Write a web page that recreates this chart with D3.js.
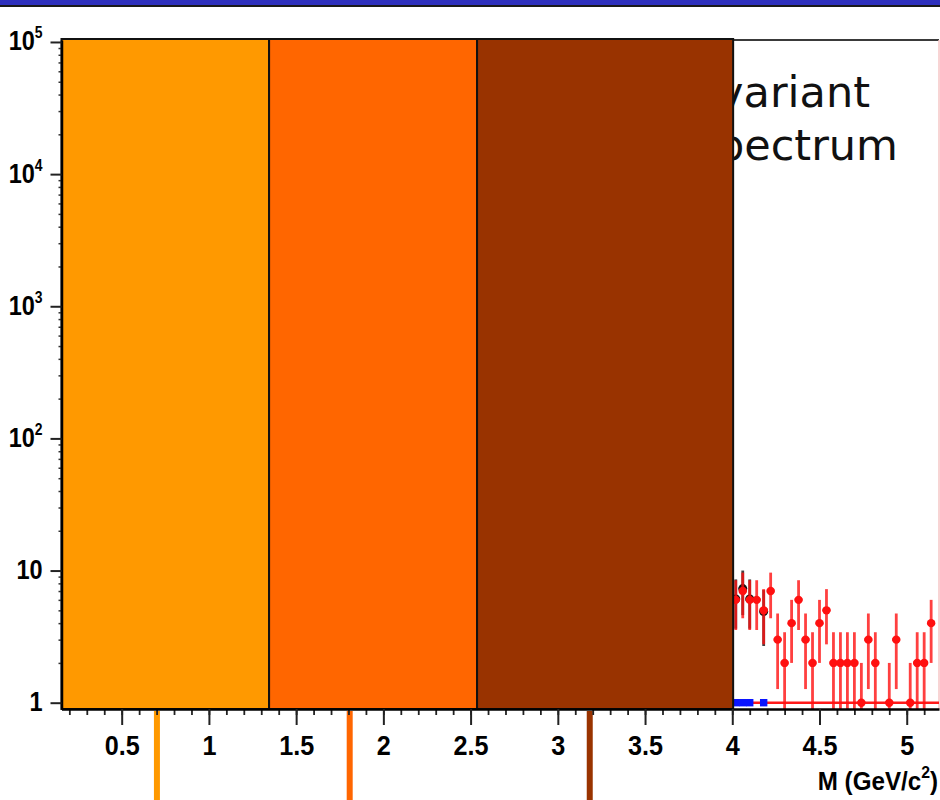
<!DOCTYPE html>
<html>
<head>
<meta charset="utf-8">
<script src="https://cdn.jsdelivr.net/npm/d3@7"></script>
<style>
  body { margin: 0; background: #fff; }
  svg { display: block; }
  .label { font-family: 'Liberation Sans', Arial, sans-serif; font-weight: bold; fill: #000; }
</style>
</head>
<body>
<div id="grafico"></div>
<script>
// Bin centres (GeV/c^2) and counts of the red histogram
const massBins = [4.02, 4.06, 4.10, 4.14, 4.18, 4.22, 4.26, 4.30, 4.34, 4.38,
  4.42, 4.46, 4.50, 4.54, 4.58, 4.62, 4.66, 4.70, 4.74, 4.78,
  4.82, 4.86, 4.90, 4.94, 4.98, 5.02, 5.06, 5.10, 5.14];
const counts = [6, 7, 6, 6, 5, 7, 3, 2, 4, 6,
  3, 2, 4, 5, 2, 2, 2, 2, 1, 3,
  2, 0, 1, 3, 0, 1, 2, 2, 4];

// Second (black) series, mostly hidden under the red one
const blackBins = [4.02, 4.06, 4.10, 4.18];
const blackCounts = [6.1, 7.3, 6.1, 4.9];

// Blue series sitting on the bottom
const blueBins = [4.02, 4.06, 4.10, 4.18];
const blueCounts = [1, 1, 1, 1];

// Red flat line
const fitLevel = 1;

// Coloured mass regions drawn over the plot, and the marks below the axis
const regionEdges = [0.155, 1.345, 2.537, 4.005];
const regionColors = ['#ff9900', '#ff6600', '#993300'];
const regionMarks = [0.702, 1.807, 3.183];

// Axis ticks
const xTicks = [0.5, 1, 1.5, 2, 2.5, 3, 3.5, 4, 4.5, 5];
const yTicks = [1, 10, 100, 1000, 10000, 100000];
const titleLines = ['Invariant', 'mass spectrum'];

function criarGrafico() {
  const largura = 940;
  const altura = 800;

  const svg = d3
    .select('#grafico')
    .append('svg')
    .attr('width', largura)
    .attr('height', altura);

  // Scales
  const x = d3.scaleLinear().domain([0.155, 5.185]).range([61.5, 939]);
  const y = d3.scaleLog().domain([0.896, 1.035e5]).range([709, 40]);
  const yMin = y.domain()[0];

  // Slide header strip
  svg.append('rect').attr('x', 0).attr('y', 0).attr('width', largura).attr('height', 5).attr('fill', '#2e30bd');
  svg.append('rect').attr('x', 0).attr('y', 5).attr('width', largura).attr('height', 2).attr('fill', '#1a1a1a');

  // Title text (mostly covered)
  svg
    .selectAll('.titulo')
    .data(titleLines)
    .enter()
    .append('text')
    .attr('class', 'titulo')
    .attr('x', (d, i) => (i === 0 ? 870 : 898))
    .attr('y', (d, i) => 107 + i * 53)
    .attr('text-anchor', 'end')
    .style('font-family', "'DejaVu Sans', Verdana, sans-serif")
    .style('font-size', '43px')
    .attr('fill', '#111')
    .text((d) => d);

  // Frame
  svg.append('line').attr('x1', 61.5).attr('x2', 939).attr('y1', 40).attr('y2', 40)
    .attr('stroke', '#3a3a3a').attr('stroke-width', 2);
  svg.append('line').attr('x1', 939).attr('x2', 939).attr('y1', 40).attr('y2', 709)
    .attr('stroke', '#f6c6c6').attr('stroke-width', 1.5);

  // Red flat line
  svg.append('line')
    .attr('x1', x(regionEdges[3])).attr('x2', x(x.domain()[1]))
    .attr('y1', y(fitLevel)).attr('y2', y(fitLevel))
    .attr('stroke', '#ff1a1a').attr('stroke-width', 2.5);

  // Blue markers
  svg.selectAll('.azul')
    .data(blueBins.map((b, i) => ({ m: b, n: blueCounts[i] })))
    .enter()
    .append('rect')
    .attr('class', 'azul')
    .attr('x', (d) => x(d.m) - 3.7)
    .attr('y', (d) => y(d.n) - 3.7)
    .attr('width', 7.4)
    .attr('height', 7.4)
    .attr('fill', '#0a14ff');

  // Histogram points with Poisson error bars
  function desenhaPontos(bins, valores, cor, raio, classe) {
    const dados = bins
      .map((b, i) => ({ m: b, n: valores[i] }))
      .filter((d) => d.n > 0);
    const g = svg.append('g').attr('class', classe);
    g.selectAll('.ey')
      .data(dados)
      .enter()
      .append('line')
      .attr('x1', (d) => x(d.m))
      .attr('x2', (d) => x(d.m))
      .attr('y1', (d) => y(Math.max(d.n - Math.sqrt(d.n), yMin)))
      .attr('y2', (d) => y(d.n + Math.sqrt(d.n)))
      .attr('stroke', cor)
      .attr('stroke-opacity', 0.8)
      .attr('stroke-width', 2.8);
    g.selectAll('.ex')
      .data(dados)
      .enter()
      .append('line')
      .attr('x1', (d) => x(d.m - 0.022))
      .attr('x2', (d) => x(d.m + 0.022))
      .attr('y1', (d) => y(d.n))
      .attr('y2', (d) => y(d.n))
      .attr('stroke', cor)
      .attr('stroke-width', 2.8);
    g.selectAll('circle')
      .data(dados)
      .enter()
      .append('circle')
      .attr('cx', (d) => x(d.m))
      .attr('cy', (d) => y(d.n))
      .attr('r', raio)
      .attr('fill', cor);
  }
  desenhaPontos(blackBins, blackCounts, '#111', 4.5, 'preto');
  desenhaPontos(massBins, counts, '#ff1010', 4.2, 'vermelho');

  // Coloured regions over the plot
  svg.selectAll('.regiao')
    .data(regionColors)
    .enter()
    .append('rect')
    .attr('class', 'regiao')
    .attr('x', (d, i) => x(regionEdges[i]))
    .attr('width', (d, i) => x(regionEdges[i + 1]) - x(regionEdges[i]))
    .attr('y', y(y.domain()[1]) - 1)
    .attr('height', y(yMin) - y(y.domain()[1]) + 1)
    .attr('fill', (d) => d)
    .attr('stroke', '#111')
    .attr('stroke-width', 2);

  // Marks below the axis
  svg.selectAll('.marca')
    .data(regionMarks)
    .enter()
    .append('line')
    .attr('class', 'marca')
    .attr('x1', (d) => x(d))
    .attr('x2', (d) => x(d))
    .attr('y1', 711)
    .attr('y2', altura)
    .attr('stroke', (d, i) => regionColors[i])
    .attr('stroke-width', 6);

  // X axis: minor then major ticks
  const minorX = d3.range(0.2, 5.15, 0.1).map((v) => +v.toFixed(1));
  svg.append('g')
    .attr('transform', `translate(0,${y(yMin)})`)
    .call(d3.axisBottom(x).tickValues(minorX).tickSize(6).tickSizeOuter(0).tickFormat(''))
    .call((g) => g.select('.domain').remove())
    .selectAll('line').attr('stroke-width', 1.8).attr('stroke', '#222');

  const eixoX = svg.append('g')
    .attr('transform', `translate(0,${y(yMin)})`)
    .call(d3.axisBottom(x).tickValues(xTicks).tickSize(16).tickSizeOuter(0).tickFormat((d) => String(d)));
  eixoX.select('.domain').attr('stroke-width', 2.5).attr('stroke', '#000');
  eixoX.selectAll('line').attr('stroke-width', 2).attr('stroke', '#222');
  eixoX.selectAll('text')
    .attr('class', 'label')
    .attr('y', 0)
    .attr('dy', 0)
    .attr('transform', 'translate(0,46) scale(0.9,1)')
    .style('font-size', '28px');

  // Y axis
  const minorY = [];
  yTicks.slice(0, -1).forEach((t) => {
    for (let k = 2; k <= 9; k++) minorY.push(t * k);
  });
  svg.append('g')
    .attr('transform', `translate(${x(x.domain()[0])},0)`)
    .call(d3.axisLeft(y).tickValues(minorY).tickSize(3).tickSizeOuter(0).tickFormat(''))
    .call((g) => g.select('.domain').remove())
    .selectAll('line').attr('stroke-width', 1.5).attr('stroke', '#333');

  const eixoY = svg.append('g')
    .attr('transform', `translate(${x(x.domain()[0])},0)`)
    .call(d3.axisLeft(y).tickValues(yTicks).tickSize(11).tickSizeOuter(0).tickFormat(''));
  eixoY.select('.domain').attr('stroke-width', 2.5).attr('stroke', '#000');
  eixoY.selectAll('line').attr('stroke-width', 2).attr('stroke', '#222');
  eixoY.selectAll('.tick')
    .append('text')
    .attr('class', 'label')
    .attr('text-anchor', 'end')
    .attr('transform', 'translate(-19,8) scale(0.87,1)')
    .style('font-size', '27px')
    .each(function (d) {
      const t = d3.select(this);
      const exp = Math.round(Math.log10(d));
      if (exp <= 1) {
        t.text(String(d));
      } else {
        t.append('tspan').text('10');
        t.append('tspan').attr('dy', -12).style('font-size', '16px').text(String(exp));
      }
    });

  // X axis title
  const titulo = svg.append('text')
    .attr('class', 'label')
    .attr('text-anchor', 'end')
    .attr('transform', 'translate(938,790) scale(0.93,1)')
    .style('font-size', '26px');
  titulo.append('tspan').text('M (GeV/c');
  titulo.append('tspan').attr('dy', -12).style('font-size', '17px').text('2');
  titulo.append('tspan').attr('dy', 12).text(')');
}

criarGrafico();
</script>
</body>
</html>
